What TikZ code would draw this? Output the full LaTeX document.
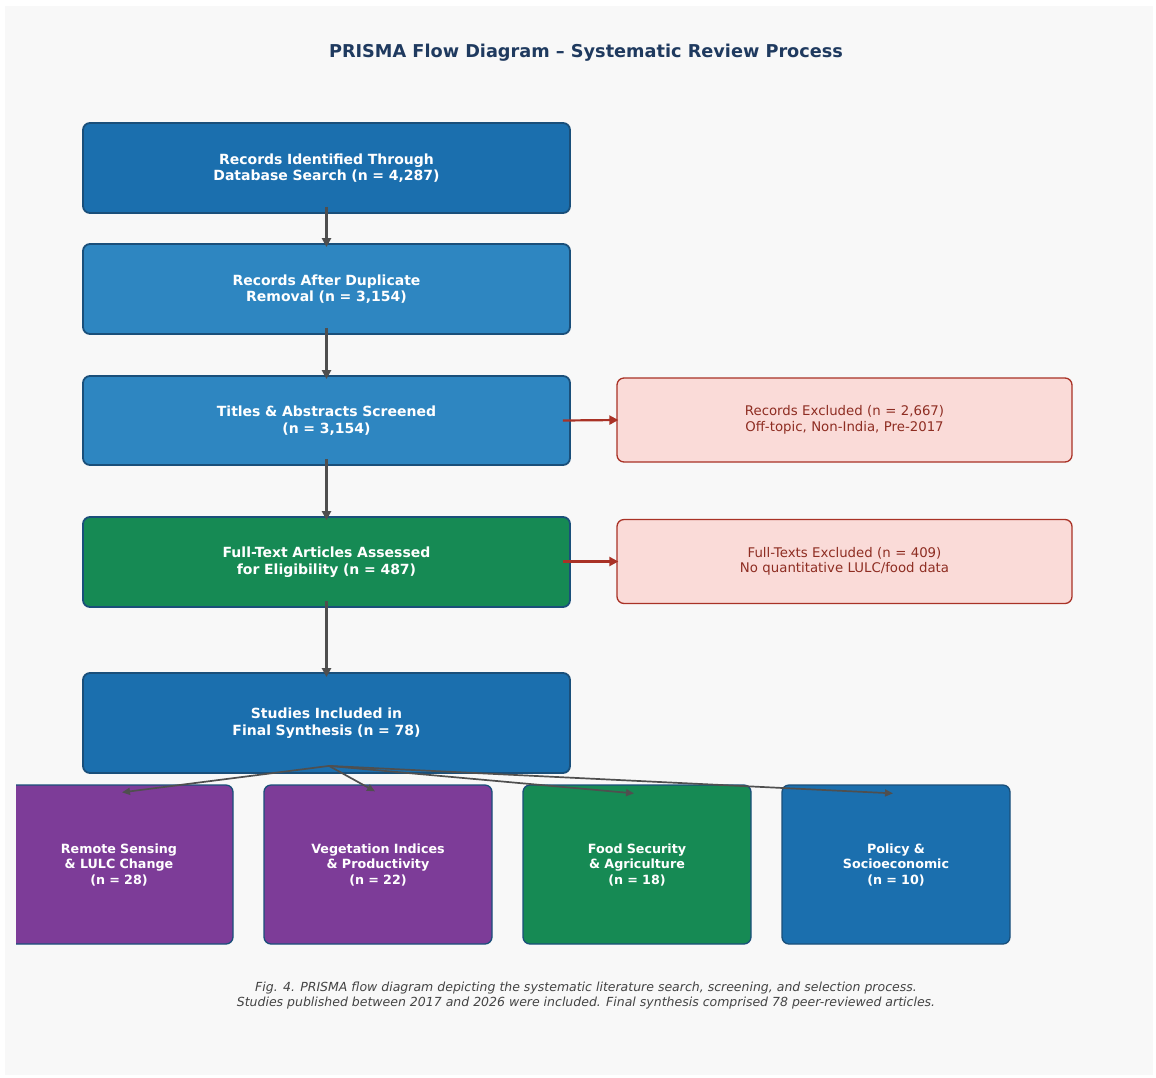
\documentclass[tikz,border=0pt]{standalone}
\usepackage{fontspec}
\setmainfont{DejaVu Sans}
\usetikzlibrary{arrows.meta}
\definecolor{bgpanel}{HTML}{F8F8F8}
\definecolor{darkblue}{HTML}{1B6FAE}
\definecolor{midblue}{HTML}{2E86C1}
\definecolor{boxgreen}{HTML}{168A54}
\definecolor{boxpurple}{HTML}{7D3C98}
\definecolor{boxedge}{HTML}{1A4F7A}
\definecolor{exfill}{HTML}{FADBD8}
\definecolor{exedge}{HTML}{A93226}
\definecolor{extext}{HTML}{8E2D22}
\definecolor{arrowgrey}{HTML}{4F4F4F}
\definecolor{titlecol}{HTML}{1F3A5F}
\definecolor{capcol}{HTML}{444444}
\tikzset{
  mainbox/.style={draw=boxedge, line width=1.8pt, rounded corners=7pt,
    minimum width=487pt, text width=470pt, align=center, text=white,
    font=\fontsize{14}{16.5}\selectfont\bfseries, inner sep=0pt},
  exbox/.style={draw=exedge, line width=1.3pt, fill=exfill, rounded corners=7pt,
    minimum width=455pt, minimum height=84pt, text width=440pt, align=center, text=extext,
    font=\fontsize{13.3}{15.5}\selectfont, inner sep=0pt},
  catbox/.style={draw=boxedge, line width=1.3pt, rounded corners=7pt,
    minimum width=228pt, minimum height=159pt, text width=215pt, align=center, text=white,
    font=\fontsize{12.7}{15.5}\selectfont\bfseries, inner sep=0pt},
  vflow/.style={draw=arrowgrey, line width=2.4pt, -{Triangle[length=9pt,width=9pt]}},
  exflow/.style={draw=exedge, line width=2.2pt, -{Triangle[length=9pt,width=9pt]}},
  fanflow/.style={draw=arrowgrey, line width=1.7pt, -{Triangle[length=8pt,width=7pt]}},
}
\begin{document}
\begin{tikzpicture}[x=1pt,y=-1pt]
\useasboundingbox (0,0) rectangle (1156,1077);
\fill[white] (0,0) rectangle (1156,1077);
\fill[bgpanel] (5,6) rectangle (1153,1075);

\node[font=\fontsize{17.7}{21}\selectfont\bfseries, text=titlecol] (title) at (586,52.5)
  {PRISMA Flow Diagram – Systematic Review Process};

\node[mainbox, fill=darkblue, minimum height=90pt] (b1) at (326.5,168)
  {Records Identified Through\\Database Search (n = 4,287)};
\node[mainbox, fill=midblue, minimum height=90pt] (b2) at (326.5,289)
  {Records After Duplicate\\Removal (n = 3,154)};
\node[mainbox, fill=midblue, minimum height=89pt] (b3) at (326.5,420.5)
  {Titles \& Abstracts Screened\\(n = 3,154)};
\node[mainbox, fill=boxgreen, minimum height=90pt] (b4) at (326.5,562)
  {Full-Text Articles Assessed\\for Eligibility (n = 487)};
\node[mainbox, fill=darkblue, minimum height=100pt] (b5) at (326.5,723)
  {Studies Included in\\Final Synthesis (n = 78)};

\node[exbox] (e1) at (844.5,420)
  {Records Excluded (n = 2,667)\\Off-topic, Non-India, Pre-2017};
\node[exbox] (e2) at (844.5,561.5)
  {Full-Texts Excluded (n = 409)\\No quantitative LULC/food data};

\begin{scope}
  \clip (16,0) rectangle (1156,1077);
  \node[catbox, fill=boxpurple] (c1) at (119,864.5)
    {Remote Sensing\\\& LULC Change\\(n = 28)};
\end{scope}
\node[catbox, fill=boxpurple] (c2) at (378,864.5)
  {Vegetation Indices\\\& Productivity\\(n = 22)};
\node[catbox, fill=boxgreen] (c3) at (637,864.5)
  {Food Security\\\& Agriculture\\(n = 18)};
\node[catbox, fill=darkblue] (c4) at (896,864.5)
  {Policy \&\\Socioeconomic\\(n = 10)};

\draw[vflow] ([yshift=7pt]b1.south) -- ([yshift=-4pt]b2.north);
\draw[vflow] ([yshift=7pt]b2.south) -- ([yshift=-4pt]b3.north);
\draw[vflow] ([yshift=7pt]b3.south) -- ([yshift=-4pt]b4.north);
\draw[vflow] ([yshift=7pt]b4.south) -- ([yshift=-5pt]b5.north);

\draw[exflow] ([xshift=-8pt]b3.east) -- ([xshift=2pt]e1.west);
\draw[exflow] ([xshift=-8pt]b4.east |- e2.west) -- ([xshift=2pt]e2.west);

\coordinate (fan) at ([xshift=2.5pt,yshift=8pt]b5.south);
\draw[fanflow] (fan) -- ([xshift=3pt,yshift=-8pt]c1.north);
\draw[fanflow] (fan) -- ([xshift=-3pt,yshift=-7pt]c2.north);
\draw[fanflow] (fan) -- ([xshift=-3pt,yshift=-9pt]c3.north);
\draw[fanflow] (fan) -- ([xshift=-3pt,yshift=-9pt]c4.north);

\node[font=\fontsize{12.5}{15.5}\selectfont\itshape, text=capcol, align=center] (cap) at (586,995.5)
  {Fig. 4. PRISMA flow diagram depicting the systematic literature search, screening, and selection process.\\
   Studies published between 2017 and 2026 were included. Final synthesis comprised 78 peer-reviewed articles.};
\end{tikzpicture}
\end{document}
